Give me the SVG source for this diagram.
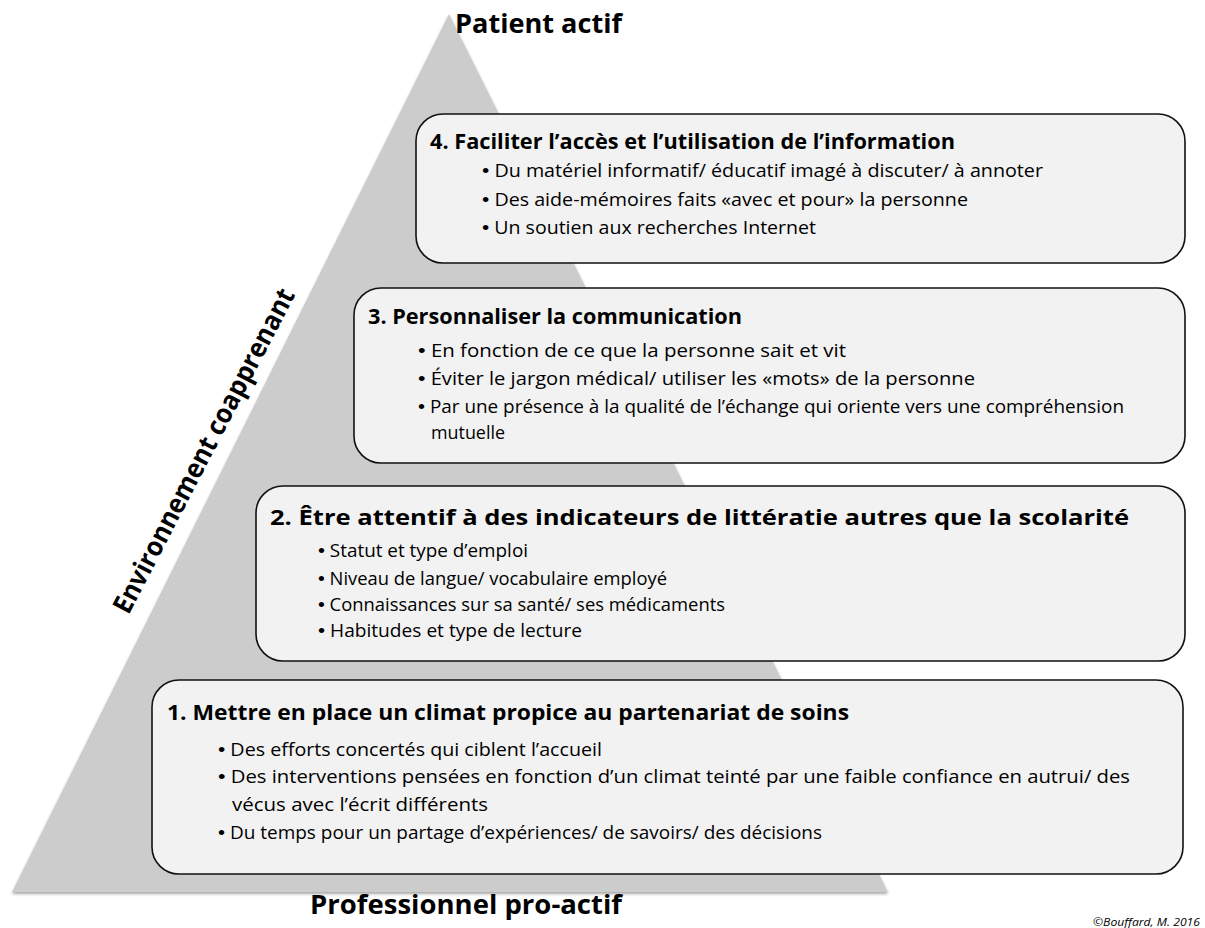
<svg xmlns="http://www.w3.org/2000/svg" width="1205" height="928" viewBox="0 0 1205 928">
  <style>
    .lvl { fill: #f2f2f2; stroke: #111; stroke-width: 1.6; }
    .ttl { font-family: "Open Sans", Lato, sans-serif; font-weight: bold; font-size: 20.5px; fill: #000; }
    .itm { font-family: "Open Sans", Lato, sans-serif; font-size: 18px; fill: #000; }
    .dot { font-family: "Liberation Sans", Arial, sans-serif; font-size: 19px; }
    .big { font-family: "Open Sans", Lato, sans-serif; font-weight: bold; font-size: 27px; fill: #000; }
    .cpy { font-family: "Open Sans", Lato, sans-serif; font-style: italic; font-size: 11.5px; fill: #000; }
  </style>
  <defs>
    <filter id="shade" x="-5%" y="-5%" width="110%" height="110%">
      <feGaussianBlur in="SourceAlpha" stdDeviation="1.5"/>
      <feOffset dx="0" dy="1.5"/>
      <feComponentTransfer><feFuncA type="linear" slope="0.35"/></feComponentTransfer>
      <feMerge><feMergeNode/><feMergeNode in="SourceGraphic"/></feMerge>
    </filter>
  </defs>
  <rect width="1205" height="928" fill="#fff"/>

  <!-- pyramid background -->
  <g id="pyramid">
    <polygon points="449,14 12,892 888,892" fill="#cccccc" filter="url(#shade)"/>
  </g>

  <!-- apex, base and side captions -->
  <g id="captions">
    <text class="big" x="455" y="33" textLength="167" lengthAdjust="spacingAndGlyphs">Patient actif</text>
    <text class="big" x="310" y="914" textLength="312" lengthAdjust="spacingAndGlyphs">Professionnel pro-actif</text>
    <text class="big" font-size="26" transform="translate(212,455) rotate(-62.5)" text-anchor="middle" textLength="362" lengthAdjust="spacingAndGlyphs">Environnement coapprenant</text>
    <text class="cpy" x="1093" y="926" textLength="107" lengthAdjust="spacingAndGlyphs">©Bouffard, M. 2016</text>
  </g>

  <!-- level 4 -->
  <g id="level4">
    <rect class="lvl" x="416" y="114" width="769" height="149" rx="27"/>
    <text class="ttl" x="430" y="149" textLength="525" lengthAdjust="spacingAndGlyphs">4. Faciliter l’accès et l’utilisation de l’information</text>
    <text class="itm" x="482" y="177" textLength="561" lengthAdjust="spacingAndGlyphs"><tspan class="dot">•</tspan> Du matériel informatif/ éducatif imagé à discuter/ à annoter</text>
    <text class="itm" x="482" y="206" textLength="486" lengthAdjust="spacingAndGlyphs"><tspan class="dot">•</tspan> Des aide-mémoires faits «avec et pour» la personne</text>
    <text class="itm" x="482" y="234" textLength="334" lengthAdjust="spacingAndGlyphs"><tspan class="dot">•</tspan> Un soutien aux recherches Internet</text>
  </g>

  <!-- level 3 -->
  <g id="level3">
    <rect class="lvl" x="354" y="288" width="831" height="175" rx="27"/>
    <text class="ttl" x="368" y="324" textLength="374" lengthAdjust="spacingAndGlyphs">3. Personnaliser la communication</text>
    <text class="itm" x="418" y="357" textLength="428" lengthAdjust="spacingAndGlyphs"><tspan class="dot">•</tspan> En fonction de ce que la personne sait et vit</text>
    <text class="itm" x="418" y="385" textLength="557" lengthAdjust="spacingAndGlyphs"><tspan class="dot">•</tspan> Éviter le jargon médical/ utiliser les «mots» de la personne</text>
    <text class="itm" x="418" y="413" textLength="706" lengthAdjust="spacingAndGlyphs"><tspan class="dot">•</tspan> Par une présence à la qualité de l’échange qui oriente vers une compréhension</text>
    <text class="itm" x="431" y="439" textLength="74" lengthAdjust="spacingAndGlyphs">mutuelle</text>
  </g>

  <!-- level 2 -->
  <g id="level2">
    <rect class="lvl" x="256" y="486" width="929" height="175" rx="27"/>
    <text class="ttl" x="270" y="525" textLength="859" lengthAdjust="spacingAndGlyphs">2. Être attentif à des indicateurs de littératie autres que la scolarité</text>
    <text class="itm" x="318" y="557" textLength="210" lengthAdjust="spacingAndGlyphs"><tspan class="dot">•</tspan> Statut et type d’emploi</text>
    <text class="itm" x="318" y="585" textLength="349" lengthAdjust="spacingAndGlyphs"><tspan class="dot">•</tspan> Niveau de langue/ vocabulaire employé</text>
    <text class="itm" x="318" y="611" textLength="407" lengthAdjust="spacingAndGlyphs"><tspan class="dot">•</tspan> Connaissances sur sa santé/ ses médicaments</text>
    <text class="itm" x="318" y="637" textLength="264" lengthAdjust="spacingAndGlyphs"><tspan class="dot">•</tspan> Habitudes et type de lecture</text>
  </g>

  <!-- level 1 -->
  <g id="level1">
    <rect class="lvl" x="152" y="680" width="1031" height="194" rx="27"/>
    <text class="ttl" x="167" y="720" textLength="682" lengthAdjust="spacingAndGlyphs">1. Mettre en place un climat propice au partenariat de soins</text>
    <text class="itm" x="218" y="756" textLength="384" lengthAdjust="spacingAndGlyphs"><tspan class="dot">•</tspan> Des efforts concertés qui ciblent l’accueil</text>
    <text class="itm" x="218" y="783" textLength="912" lengthAdjust="spacingAndGlyphs"><tspan class="dot">•</tspan> Des interventions pensées en fonction d’un climat teinté par une faible confiance en autrui/ des</text>
    <text class="itm" x="232" y="811" textLength="256" lengthAdjust="spacingAndGlyphs">vécus avec l’écrit différents</text>
    <text class="itm" x="218" y="839" textLength="604" lengthAdjust="spacingAndGlyphs"><tspan class="dot">•</tspan> Du temps pour un partage d’expériences/ de savoirs/ des décisions</text>
  </g>

  <g id="connectors"/>
</svg>
